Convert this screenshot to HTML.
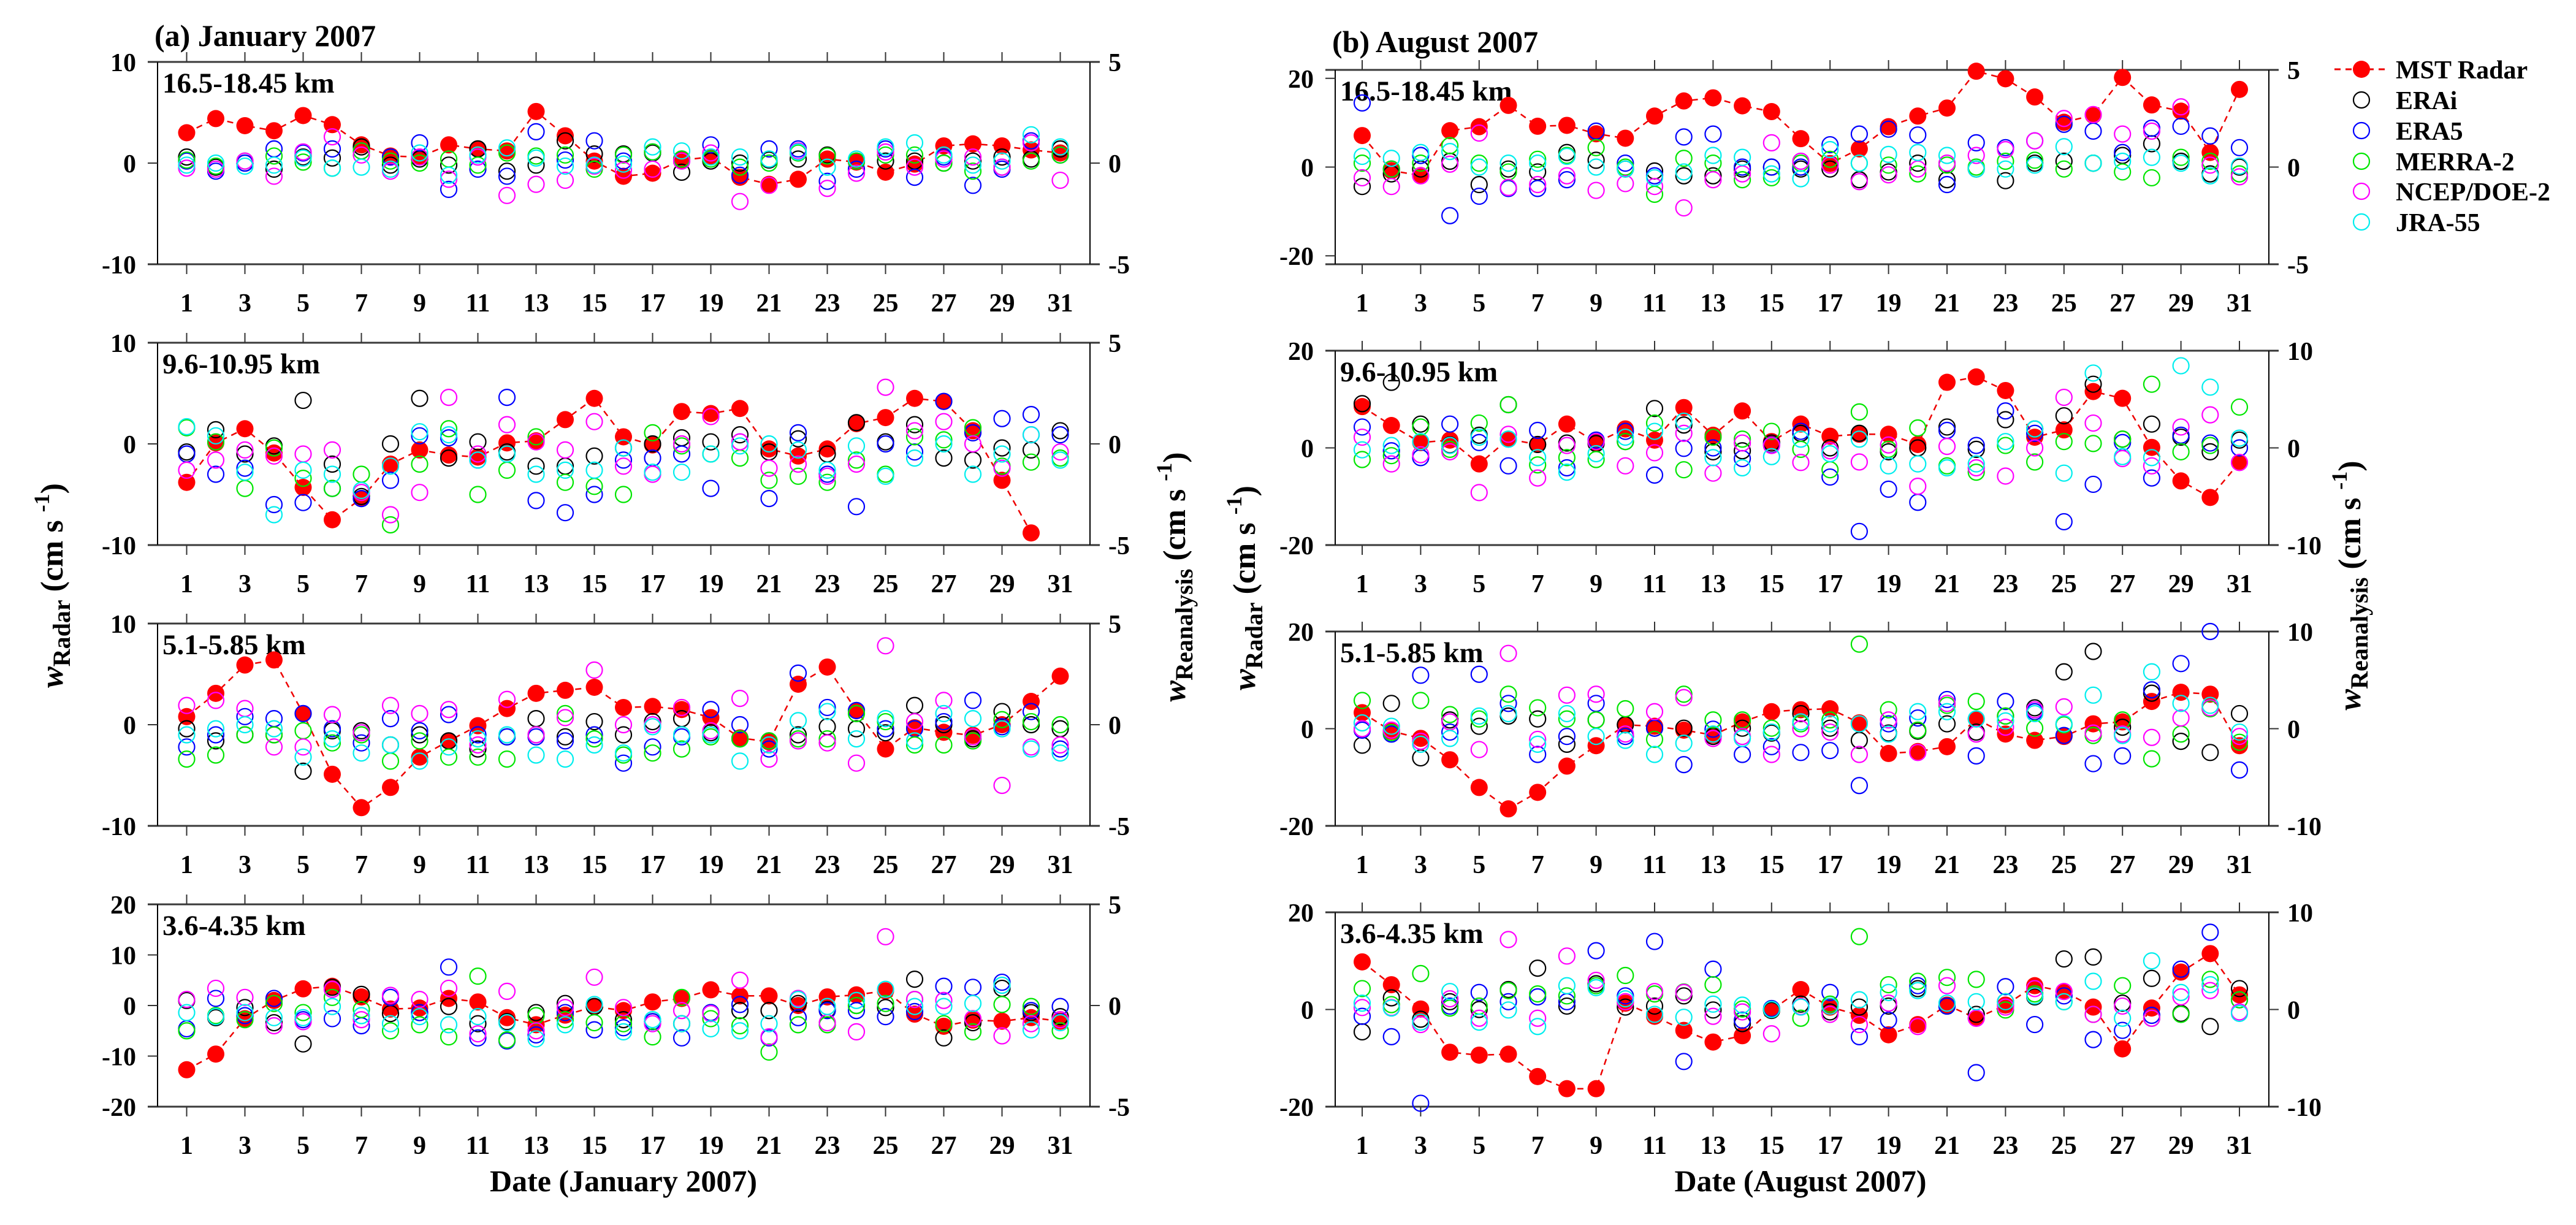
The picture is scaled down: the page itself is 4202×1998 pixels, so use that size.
<!DOCTYPE html>
<html><head><meta charset="utf-8"><style>
html,body{margin:0;padding:0;background:#fff;}
svg{display:block;font-family:"Liberation Serif","DejaVu Serif",serif;font-weight:bold;}
</style></head><body>
<svg id="chart" width="4202" height="1998" viewBox="0 0 4202 1998" xmlns="http://www.w3.org/2000/svg">
<rect x="0" y="0" width="4202" height="1998" fill="#fff"/>
<g id="plots"></g>
<text x="252" y="75" font-size="50">(a) January 2007</text>
<text x="2173" y="85" font-size="50">(b) August 2007</text>
<text x="1017" y="1943" font-size="50" text-anchor="middle">Date (January 2007)</text>
<text x="2937" y="1943" font-size="50" text-anchor="middle">Date (August 2007)</text>
<text transform="translate(102,955) rotate(-90)" font-size="52" text-anchor="middle"><tspan font-style="italic">w</tspan><tspan font-size="40" dy="12">Radar</tspan><tspan dy="-12"> (cm s </tspan><tspan font-size="36" dy="-22">-1</tspan><tspan dy="22">)</tspan></text>
<text transform="translate(1933,941) rotate(-90)" font-size="52" text-anchor="middle"><tspan font-style="italic">w</tspan><tspan font-size="40" dy="12">Reanalysis</tspan><tspan dy="-12"> (cm s </tspan><tspan font-size="36" dy="-22">-1</tspan><tspan dy="22">)</tspan></text>
<text transform="translate(2047,959) rotate(-90)" font-size="52" text-anchor="middle"><tspan font-style="italic">w</tspan><tspan font-size="40" dy="12">Radar</tspan><tspan dy="-12"> (cm s </tspan><tspan font-size="36" dy="-22">-1</tspan><tspan dy="22">)</tspan></text>
<text transform="translate(3850,955) rotate(-90)" font-size="52" text-anchor="middle"><tspan font-style="italic">w</tspan><tspan font-size="40" dy="12">Reanalysis</tspan><tspan dy="-12"> (cm s </tspan><tspan font-size="36" dy="-22">-1</tspan><tspan dy="22">)</tspan></text>
<g id="legend">
 <g>
  <line x1="3808" y1="113" x2="3891" y2="113" stroke="#e00" stroke-width="3" stroke-dasharray="10,8"/>
  <circle cx="3852" cy="113" r="14" fill="#f00"/>
  <text x="3908" y="128" font-size="42">MST Radar</text></g>
 <g><circle cx="3852" cy="163" r="13" fill="none" stroke="#000" stroke-width="2.2"/><text x="3908" y="178" font-size="42">ERAi</text></g>
 <g><circle cx="3852" cy="213" r="13" fill="none" stroke="#0000ff" stroke-width="2.2"/><text x="3908" y="228" font-size="42">ERA5</text></g>
 <g><circle cx="3852" cy="263" r="13" fill="none" stroke="#00e600" stroke-width="2.2"/><text x="3908" y="278" font-size="42">MERRA-2</text></g>
 <g><circle cx="3852" cy="312" r="13" fill="none" stroke="#ff00ff" stroke-width="2.2"/><text x="3908" y="327" font-size="42">NCEP/DOE-2</text></g>
 <g><circle cx="3852" cy="362" r="13" fill="none" stroke="#00eeee" stroke-width="2.2"/><text x="3908" y="377" font-size="42">JRA-55</text></g>
</g>
</svg>
<script>
const days = [1,2,3,4,5,6,7,8,9,10,11,12,13,14,15,16,17,18,19,20,21,22,23,24,25,26,27,28,29,30,31];
const dayTickLabels = ["1","3","5","7","9","11","13","15","17","19","21","23","25","27","29","31"];
const rowLabels = ["16.5-18.45 km","9.6-10.95 km","5.1-5.85 km","3.6-4.35 km"];

// January 2007 (a) — MST in left-axis units, reanalyses in right-axis units
const jan1_mst = [3.0,4.4,3.7,3.2,4.7,3.8,1.8,0.7,0.6,1.8,1.4,1.2,5.1,2.7,0.2,-1.3,-1.0,0.3,0.6,-1.4,-2.1,-1.6,0.4,0.1,-0.9,-0.1,1.7,1.9,1.7,1.3,1.0];
const jan1_erai = [0.3,-0.2,0,-0.3,0.3,0.25,0.8,-0.1,0.2,-0.1,0.7,-0.4,-0.1,1.1,0.45,0.45,0.5,-0.45,0.1,0,0.15,0.2,0.4,0.1,0.1,0.1,0,0.1,0.3,0.2,0.7];
const jan1_era5 = [0.1,-0.4,0,0.7,0.5,0.7,0.6,0.3,1.0,-1.3,-0.3,-0.65,1.55,0.15,1.1,0.1,0.55,0.2,0.9,-0.6,0.7,0.7,-0.9,-0.3,0.7,-0.7,0.3,-1.1,-0.3,1.1,0.4];
const jan1_merra = [0.15,-0.15,0.1,0.35,0.05,-0.25,0.6,0.1,0,0.2,-0.1,0.5,0.35,0.4,-0.3,0.4,0.55,0.2,0.2,-0.2,0,0.5,0.35,0.1,0.4,0.4,0,-0.4,-0.2,0.1,0.4];
const jan1_ncep = [-0.25,-0.3,0.1,-0.65,0.55,1.3,0.4,-0.4,0.3,-0.8,0.3,-1.6,-1.05,-0.85,-0.15,-0.35,-0.3,0.1,0.5,-1.9,-1.1,0.6,-1.25,-0.5,0.55,-0.2,0.2,0.3,-0.2,1.0,-0.85];
const jan1_jra = [-0.1,0,-0.15,-0.1,0.25,-0.25,-0.2,-0.3,0.5,-0.6,0.4,0.75,0.25,-0.15,-0.1,-0.05,0.8,0.6,0.3,0.3,0.2,0.55,-0.2,0.2,0.8,1.0,0.4,-0.1,0.1,1.4,0.8];

const jan2_mst = [-3.8,0.1,1.5,-0.9,-4.3,-7.5,-5.4,-2.0,-0.6,-1.1,-1.3,0.1,0.3,2.4,4.5,0.7,-0.1,3.2,3.0,3.5,-0.5,-1.2,-0.5,2.0,2.6,4.5,4.2,1.3,-3.6,-8.8,null];
const jan2_erai = [-0.4,0.7,-0.5,-0.1,2.15,-1.0,-2.6,0,2.25,-0.7,0.1,-0.4,-1.1,-1.1,-0.6,-0.2,0,0.3,0.1,0.45,-0.4,0.25,-0.5,1.05,0.1,0.95,-0.7,-0.8,-0.2,-0.3,0.65];
const jan2_era5 = [-0.5,-1.5,-1.2,-3.0,-2.9,-2.2,-2.7,-1.8,0.4,0.3,-0.8,2.3,-2.8,-3.4,-2.5,-0.8,-0.7,-0.5,-2.2,0.1,-2.7,0.55,-1.5,-3.1,0,-0.4,2.1,0.55,1.25,1.45,0.45];
const jan2_merra = [0.8,0.1,-2.2,-0.2,-1.7,-2.2,-1.5,-4.0,-1.0,0.75,-2.5,-1.3,0.35,-1.9,-2.1,-2.5,0.55,-0.1,-0.5,-0.7,-1.8,-1.6,-1.9,-0.8,-1.5,0.35,0.2,0.8,-1.1,-0.9,-0.7];
const jan2_ncep = [-1.3,-0.8,-0.3,-0.6,-0.5,-0.3,-2.4,-3.5,-2.4,2.3,-0.5,0.95,0.1,-0.3,1.1,-1.1,-1.5,0,1.35,0.1,-1.2,-1.0,-1.6,-1.0,2.8,0.65,1.1,0,-1.2,0.45,-0.4];
const jan2_jra = [0.85,0.4,-1.4,-3.5,-1.3,-1.5,-2.3,-1.1,0.6,0.45,-0.8,-0.5,-1.5,-1.3,-1.3,-0.2,-1.4,-1.4,-0.5,-0.1,0,-0.3,-1.3,-0.1,-1.6,-0.7,0,-1.5,-0.5,0.45,-0.8];

const jan3_mst = [0.8,3.1,5.9,6.4,1.1,-4.9,-8.2,-6.2,-3.2,-1.6,-0.1,1.6,3.1,3.4,3.7,1.7,1.8,1.5,0.7,-1.3,-1.7,4.0,5.7,1.4,-2.4,-0.3,-0.75,-1.05,0,2.3,4.8];
const jan3_erai = [-0.2,-0.8,-0.5,-0.5,-2.3,-0.3,-0.3,-1.0,-0.5,-0.8,-1.2,-0.6,0.3,-0.6,0.15,-0.5,0.15,0.3,-0.4,-0.7,-0.8,-0.5,-0.1,-0.2,-0.4,0.95,0,-0.7,0.65,0,-0.2];
const jan3_era5 = [-1.1,-0.5,0.4,0.3,0.55,-0.2,-0.9,0.3,-0.3,0.5,-0.5,-0.6,-0.6,-0.8,-0.5,-1.9,-1.1,-0.6,0.75,0,-1.2,2.55,0.85,0.7,-0.2,-0.2,0.15,1.2,-0.1,0.65,-1.2];
const jan3_merra = [-1.7,-1.5,-0.5,-0.5,-0.3,-0.9,-0.5,-1.8,-0.8,-1.6,-1.6,-1.7,-0.5,0.55,-0.7,-1.5,-1.4,-1.2,-0.6,-0.7,-0.8,-0.7,-0.7,0.55,0.15,-1.0,-1.0,-0.8,0.25,0.15,0];
const jan3_ncep = [0.95,1.2,0.8,-1.1,-1.1,0.5,-0.4,0.95,0.55,0.75,-1.0,1.25,-0.5,0.35,2.7,0,0,0.85,-0.3,1.3,-1.7,-0.8,-0.9,-1.9,3.9,0.15,1.2,-0.6,-3.0,-1.1,-1.0];
const jan3_jra = [-0.5,-0.2,0,-0.2,-1.6,-0.7,-1.4,-1.0,-1.8,-1.1,-0.7,-0.5,-1.5,-1.7,-1.0,-1.4,-0.1,-0.5,-0.5,-1.8,-1.0,0.2,0.65,-0.7,0.3,-0.8,0.55,0.3,-0.2,-1.2,-1.4];

const jan4_mst = [-12.7,-9.6,-2.6,1.0,3.3,3.8,1.7,-0.7,-0.5,1.4,0.7,-2.4,-3.8,-1.9,-0.2,-1.0,0.7,1.4,3.1,1.9,1.9,0,1.7,2.1,2.9,-1.7,-4.1,-2.9,-3.1,-2.4,-3.1];
const jan4_erai = [0.25,-0.6,-0.1,-0.85,-1.9,0.9,0.55,-0.4,-0.35,-0.05,-0.9,-0.8,-0.35,0.1,-0.05,-0.7,-0.8,-0.9,-0.35,-0.25,-0.25,0.1,-0.2,0,-0.1,1.3,-1.6,-0.85,0.85,-0.35,-0.55];
const jan4_era5 = [-1.15,0.35,-0.5,0.35,-0.7,-0.65,-1.0,0.4,-0.35,1.9,-1.6,-1.75,-1.45,-0.35,-1.2,-1.1,-0.8,-1.6,-0.35,0.05,-1.6,-0.6,-0.25,-0.25,-0.55,-0.3,0.95,0.9,1.15,-0.25,-0.05];
const jan4_merra = [-1.25,-0.5,-0.7,0.1,-0.35,0.4,-0.2,-1.25,-0.95,-1.55,1.45,-1.7,-0.5,-0.7,-0.85,-0.9,-1.55,0.4,-0.65,-1.0,-2.3,-0.95,-0.95,0,0.1,0.3,-0.9,-1.3,0.05,-0.05,-1.25];
const jan4_ncep = [0.3,0.85,0.4,-1.0,-0.8,0.8,-0.7,0.5,0.3,0.85,-1.4,0.7,-1.25,-0.1,1.4,-0.1,-0.9,-0.25,-0.4,1.25,-1.55,0.35,-0.85,-1.3,3.4,0.3,0.25,-0.65,-1.5,-0.9,-0.7];
const jan4_jra = [-0.35,-0.55,-0.35,-0.6,-0.6,-0.05,-0.5,-0.9,-0.55,-0.95,-0.55,-0.85,-1.65,-0.95,0.05,-1.3,-0.7,-0.9,-1.15,-1.25,-0.9,0.3,-0.05,0.25,0.8,-0.05,-0.05,0.1,1.0,-1.2,-0.85];

// August 2007 (b)
const aug1_mst = [7.1,-0.8,-1.9,8.2,9.1,13.9,9.2,9.4,7.5,6.5,11.5,14.9,15.6,13.8,12.5,6.4,0.8,4.1,9.1,11.5,13.3,21.6,19.9,15.8,10.1,11.7,20.2,14.0,12.6,3.3,17.5];
const aug1_erai = [-1.0,-0.35,-0.1,0.3,-0.9,-0.1,-0.25,0.75,0.35,-0.1,-0.2,-0.45,-0.45,-0.1,0,-0.1,-0.1,-0.65,-0.25,0.2,-0.65,-0.1,-0.7,0.2,0.3,0.2,0.6,1.2,0.3,-0.35,0];
const aug1_era5 = [3.3,-0.1,0.6,-2.5,-1.5,-1.1,-1.1,-0.65,1.85,0.2,-0.45,1.55,1.7,0,0,0,1.15,1.7,1.95,1.65,-0.9,1.25,1.0,1.35,2.2,1.85,0.75,2.0,2.1,1.6,1.0];
const aug1_merra = [0.2,-0.1,0.2,1.1,0.2,-0.25,0.4,0.6,1.0,0,-1.4,0.45,0.2,-0.65,-0.55,0.2,0.4,0.2,0.1,-0.35,0.1,0,0.3,0.35,-0.1,0.2,-0.25,-0.55,0.5,0.3,-0.35];
const aug1_ncep = [-0.55,-1.0,-0.45,0.15,1.75,-1.05,-0.9,-0.45,-1.2,-0.85,-1.0,-2.1,-0.65,-0.35,1.25,0.3,0.1,-0.75,-0.4,-0.1,0.2,0.6,0.9,1.35,2.5,2.7,1.7,1.85,3.1,0.1,-0.5];
const aug1_jra = [0.55,0.45,0.75,0.8,0,0.2,0.2,0.55,0,-0.1,-0.55,-0.25,0.6,0.5,-0.35,-0.6,0.9,0.2,0.65,0.75,0.6,-0.1,-0.1,0.1,1.05,0.2,0.3,0.5,0.2,-0.45,0.05];

const aug2_mst = [8.5,4.6,1.1,1.6,-3.3,1.8,0.7,4.9,1.1,3.9,1.6,8.3,2.6,7.6,1.3,4.9,2.4,2.8,2.8,0.7,13.5,14.6,11.8,2.2,3.7,11.6,10.2,0.1,-6.8,-10.2,-3.0];
const aug2_erai = [4.55,6.75,2.45,0.3,1.3,4.45,0.35,0.5,0.45,0.65,4.05,2.35,-0.4,-0.3,0.5,1.5,0,1.5,-0.4,0,2.15,-0.15,2.9,1.95,3.3,6.55,0.9,2.45,1.1,-0.4,0.8];
const aug2_era5 = [2.15,-0.3,-1.0,2.45,0.55,-1.85,1.8,-2.05,0.8,1.7,-2.8,-0.05,0,-1.1,0.3,1.7,-3.0,-8.6,-4.25,-5.6,1.8,0.25,3.8,1.5,-7.6,-3.75,0.55,-3.1,1.3,0.5,0];
const aug2_merra = [-1.2,-0.8,2.15,-0.15,2.55,4.45,-1.75,-1.0,-1.2,0.65,2.55,-2.25,1.1,0.9,1.7,-0.15,-2.25,3.7,-0.15,2.05,-1.85,-2.5,0.25,-1.45,0.65,0.45,0.9,6.55,-0.4,0.25,4.2];
const aug2_ncep = [1.1,-1.65,-0.7,-0.4,-4.6,1.4,-3.1,0.25,0.65,-1.85,-0.5,1.5,-2.6,0.5,0.25,-1.5,-0.3,-1.45,0.3,-3.95,0.15,-2.05,-2.9,0,5.2,2.55,-1.1,-1.85,2.15,3.4,-1.5];
const aug2_jra = [-0.2,0.25,0.65,0.25,1.1,0.9,-1.0,-2.5,-0.6,1.1,1.7,2.75,-1.0,-2.05,-0.9,0.9,-0.6,0.9,-1.85,-1.65,-2.05,-1.65,0.65,1.95,-2.6,7.7,-0.9,-1.0,8.45,6.25,1.0];

const aug3_mst = [3.3,-0.5,-2.0,-6.4,-12.1,-16.5,-13.1,-7.7,-3.5,0.8,0.5,-0.3,-1.3,1.4,3.5,3.9,4.1,1.2,-5.1,-4.7,-3.7,2.0,-1.1,-2.4,-1.6,1.0,1.4,5.6,7.5,7.1,-3.5];
const aug3_erai = [-1.7,2.6,-3.0,0.9,0.25,1.3,1.0,-1.6,0.9,0.4,0.05,0.05,-0.8,0.05,-0.45,1.55,0.05,-1.2,-0.45,-0.25,0.5,-0.35,1.3,2.15,5.85,7.95,0.15,3.65,-1.3,-2.45,1.55];
const aug3_era5 = [-0.15,-0.55,5.5,-0.35,5.6,2.6,-2.65,-0.8,2.6,-0.8,0.05,-3.7,-0.05,-2.65,-1.85,-2.45,-2.25,-5.85,0.5,1.1,3.0,-2.8,2.8,1.75,-0.7,-3.6,-2.8,4.0,6.7,10.0,-4.25];
const aug3_merra = [2.9,-0.4,2.9,1.45,1.0,3.55,2.15,1.0,0.9,2.05,-1.1,3.55,0.9,0.9,0.05,0.5,0.9,8.7,1.95,-0.15,2.4,2.8,1.3,0.05,0.4,-0.7,0.9,-3.1,-0.55,2.05,-1.4];
const aug3_ncep = [0,-0.15,-1.3,0.7,-2.15,7.75,-1.1,3.45,3.55,-0.55,1.75,3.2,-1.0,-0.8,-2.65,0,-0.35,-2.65,0.9,-2.45,2.6,-0.55,0.15,1.95,2.25,-0.45,-0.55,-0.9,1.1,2.15,-0.8];
const aug3_jra = [0.6,0.25,-1.6,-1.0,1.3,1.55,-1.6,1.55,-0.8,-1.2,-2.65,-1.5,-0.55,-1.0,-0.35,0.7,0.5,0.5,-0.55,1.75,1.75,1.0,0.8,1.55,0.5,3.45,-0.7,5.85,2.6,2.4,-0.35];

const aug4_mst = [9.8,5.1,0.1,-8.8,-9.4,-9.2,-13.8,-16.3,-16.3,1.3,-1.4,-4.3,-6.7,-5.4,-0.1,4.1,0.5,-1.2,-5.2,-3.1,0.9,-1.8,0.9,4.9,3.7,0.5,-8.1,0.3,7.7,11.5,3.0];
const aug4_erai = [-2.3,1.2,-1.0,0.8,0,2.05,4.25,0.35,2.65,0.25,0.35,1.4,-0.05,-1.45,-0.1,0.55,-0.25,0.25,0.35,2.15,0.35,-0.5,0.8,1.3,5.2,5.4,0.65,3.2,-0.4,-1.75,2.15];
const aug4_era5 = [-0.7,-2.8,-9.65,0.35,1.75,0.8,1.3,0.8,6.05,1.4,7.0,-5.35,4.15,-1.1,0.1,0.3,1.75,-2.8,-1.1,2.45,0.35,-6.5,2.35,-1.55,1.4,-3.1,-2.15,-0.6,4.15,7.95,1.0];
const aug4_merra = [2.15,0.5,3.7,0.15,0.35,1.95,1.6,1.4,2.45,3.5,1.6,1.8,2.55,0.05,0,-0.9,0.55,7.5,2.55,2.9,3.3,3.1,-0.05,1.6,0.8,-0.5,2.45,-0.9,-0.5,3.1,1.0];
const aug4_ncep = [0.2,0.2,-1.55,1.1,-0.9,7.2,-0.9,5.5,3.0,0.8,1.85,1.75,-0.7,-0.25,-2.5,0.3,-0.5,-1.55,0.65,-1.75,2.45,-0.9,0.25,2.15,1.85,-0.5,0.35,-0.9,1.3,1.95,-0.25];
const aug4_jra = [0.65,0.15,-1.3,1.85,-1.3,-0.05,-1.75,2.45,2.25,1.1,-0.5,-0.8,0.55,0.45,0,0.25,0.35,1.0,1.75,1.95,0.65,0.8,0.8,1.4,0.8,2.9,-0.9,5.0,1.75,2.55,-0.4];

const leftTicksA = [[-10,0,10],[-10,0,10],[-10,0,10],[-20,-10,0,10,20]];
const rightTicksA = [[-5,0,5],[-5,0,5],[-5,0,5],[-5,0,5]];
const leftTicksB = [[-20,0,20],[-20,0,20],[-20,0,20],[-20,0,20]];
const rightTicksB = [[-5,0,5],[-10,0,10],[-10,0,10],[-10,0,10]];

const NS = "http://www.w3.org/2000/svg";
const root = document.getElementById('plots');
function mk(tag, attrs, parent) {
  const e = document.createElementNS(NS, tag);
  for (const k in attrs) e.setAttribute(k, attrs[k]);
  (parent || root).appendChild(e);
  return e;
}
const seriesColors = {erai:"#000000", era5:"#0000ff", merra:"#00e600", ncep:"#ff00ff", jra:"#00eeee"};

function drawPanel(cfg) {
  const g = mk('g', {});
  
  
  const L = cfg.left, R = cfg.right, T = cfg.top, B = cfg.top + cfg.h;
  const xOf = d => cfg.x0 + (d - 1) * cfg.dx;
  const yL = v => B - (v - cfg.yl[0]) / (cfg.yl[1] - cfg.yl[0]) * (B - T);
  const yR = v => B - (v - cfg.yr[0]) / (cfg.yr[1] - cfg.yr[0]) * (B - T);
  // frame
  const fr = mk('g', {}, g);
  
  
  mk('line', {x1:L-16, y1:T, x2:R+16, y2:T, stroke:'#3a3a3a', 'stroke-width':3}, fr);
  mk('line', {x1:L-16, y1:B, x2:R+16, y2:B, stroke:'#3a3a3a', 'stroke-width':3}, fr);
  mk('line', {x1:L, y1:T, x2:L, y2:B, stroke:'#000', 'stroke-width':2}, fr);
  mk('line', {x1:R, y1:T, x2:R, y2:B, stroke:'#000', 'stroke-width':2}, fr);
  // x ticks
  const xt = mk('g', {}, g);
  
  
  dayTickLabels.forEach(lab => {
    const x = xOf(+lab);
    mk('line', {x1:x, y1:T-16, x2:x, y2:T, stroke:'#333', 'stroke-width':2}, xt);
    mk('line', {x1:x, y1:B, x2:x, y2:B+16, stroke:'#333', 'stroke-width':2}, xt);
    const t = mk('text', {x:x, y:B+77, 'font-size':42, 'text-anchor':'middle'}, xt);
    
    
    t.textContent = lab;
  });
  // y ticks left
  const ylg = mk('g', {}, g);
  
  
  cfg.lt.forEach(v => {
    const y = yL(v);
    mk('line', {x1:L-16, y1:y, x2:L, y2:y, stroke:'#333', 'stroke-width':2}, ylg);
    const t = mk('text', {x:L-35, y:y+15, 'font-size':42, 'text-anchor':'end'}, ylg);
    
    
    t.textContent = String(v);
  });
  const yrg = mk('g', {}, g);
  
  
  cfg.rt.forEach(v => {
    const y = yR(v);
    mk('line', {x1:R, y1:y, x2:R+16, y2:y, stroke:'#333', 'stroke-width':2}, yrg);
    const t = mk('text', {x:R+30, y:y+15, 'font-size':42}, yrg);
    
    
    t.textContent = String(v);
  });
  // row label
  const rl = mk('text', {x:L+8, y:T+50, 'font-size':47}, g);
  
  
  rl.textContent = cfg.label;
  // MST line and dots
  let d = '';
  let pen = false;
  cfg.mst.forEach((v, i) => {
    if (v === null) { pen = false; return; }
    d += (pen ? 'L' : 'M') + xOf(days[i]).toFixed(1) + ' ' + yL(v).toFixed(1) + ' ';
    pen = true;
  });
  const ln = mk('path', {d:d, fill:'none', stroke:'#e00', 'stroke-width':2.5, 'stroke-dasharray':'10,8'}, g);
  
  
  cfg.mst.forEach((v, i) => {
    if (v === null) return;
    const c = mk('circle', {cx:xOf(days[i]), cy:yL(v), r:14, fill:'#ff0000'}, g);
    
    
  });
  ['erai','era5','merra','ncep','jra'].forEach(k => {
    const sg = mk('g', {}, g);
    
    
    cfg[k].forEach((v, i) => {
      if (v === null) return;
      const c = mk('circle', {cx:xOf(days[i]), cy:yR(v), r:13, fill:'none', stroke:seriesColors[k], 'stroke-width':2.2}, sg);
      
      
    });
  });
}

const janSets = [
  [jan1_mst,jan1_erai,jan1_era5,jan1_merra,jan1_ncep,jan1_jra],
  [jan2_mst,jan2_erai,jan2_era5,jan2_merra,jan2_ncep,jan2_jra],
  [jan3_mst,jan3_erai,jan3_era5,jan3_merra,jan3_ncep,jan3_jra],
  [jan4_mst,jan4_erai,jan4_era5,jan4_merra,jan4_ncep,jan4_jra]];
const augSets = [
  [aug1_mst,aug1_erai,aug1_era5,aug1_merra,aug1_ncep,aug1_jra],
  [aug2_mst,aug2_erai,aug2_era5,aug2_merra,aug2_ncep,aug2_jra],
  [aug3_mst,aug3_erai,aug3_era5,aug3_merra,aug3_ncep,aug3_jra],
  [aug4_mst,aug4_erai,aug4_era5,aug4_merra,aug4_ncep,aug4_jra]];
const topsA = [101,559,1017,1475];
const topsB = [114,572,1030,1488];
for (let r = 0; r < 4; r++) {
  const s = janSets[r];
  drawPanel({name:'jan-panel-row' + (r+1), left:257, right:1778, top:topsA[r], h:330, x0:304.5, dx:47.5,
    yl: r === 3 ? [-20,20] : [-10,10], yr:[-5,5], lt:leftTicksA[r], rt:rightTicksA[r], label:rowLabels[r],
    mst:s[0], erai:s[1], era5:s[2], merra:s[3], ncep:s[4], jra:s[5]});
  const t = augSets[r];
  drawPanel({name:'aug-panel-row' + (r+1), left:2178, right:3701, top:topsB[r], h:317, x0:2222, dx:47.7,
    yl: r === 0 ? [-21.9,21.9] : [-20,20], yr: r === 0 ? [-5,5] : [-10,10], lt:leftTicksB[r], rt:rightTicksB[r], label:rowLabels[r],
    mst:t[0], erai:t[1], era5:t[2], merra:t[3], ncep:t[4], jra:t[5]});
}
</script>
</body></html>
